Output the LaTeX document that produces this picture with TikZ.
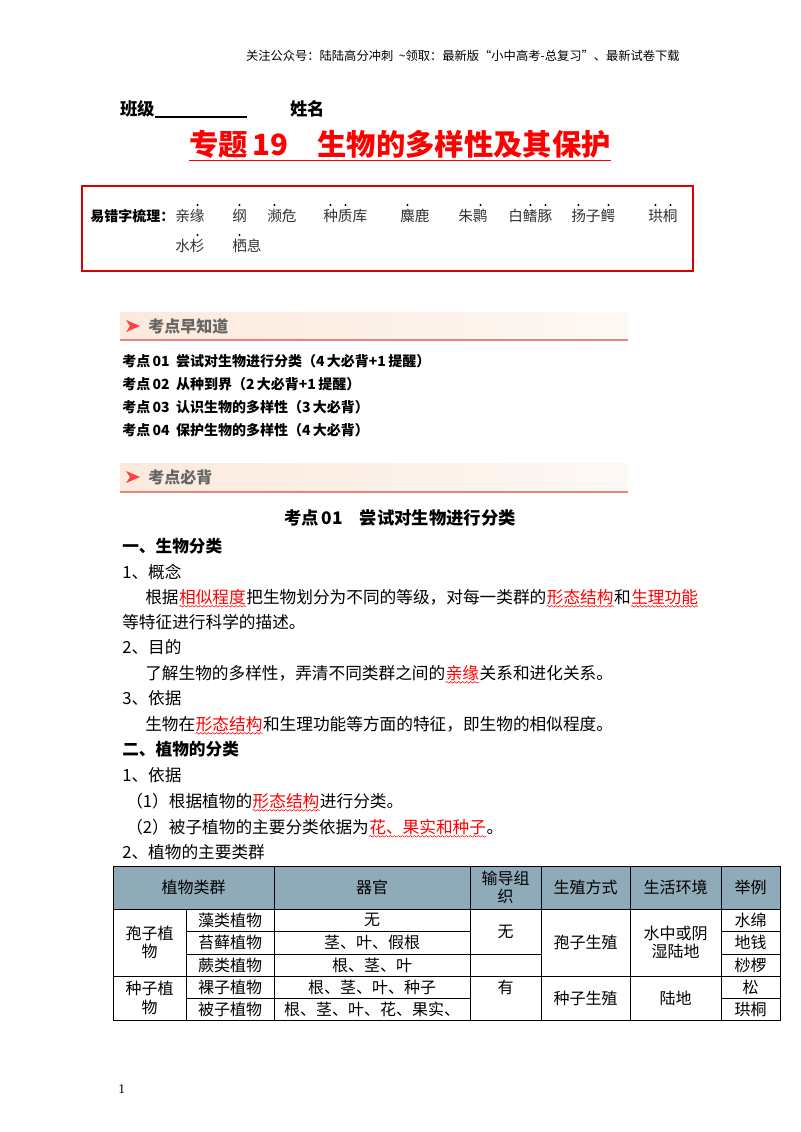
\documentclass[tikz,border=0pt]{standalone}
\usepackage{fontspec}
\setmainfont{Noto Sans CJK SC}
\newfontfamily\serifnum{Liberation Serif}
\usetikzlibrary{decorations.pathmorphing}
\definecolor{hdr}{HTML}{8FAAB9}
\definecolor{bnr}{HTML}{E8857A}
\definecolor{crm}{HTML}{FBE9DC}
\tikzset{
  x=0.75pt, y=-0.75pt,
  tx/.style={anchor=base west, inner sep=0pt, font=\fontsize{12.5}{14}\selectfont},
  rd/.style={tx, text=red},
  bd/.style={tx, font=\fontsize{12.5}{14}\selectfont\bfseries},
  li/.style={anchor=base west, inner sep=0pt, font=\fontsize{10.5}{12}\selectfont\bfseries},
  wz/.style={anchor=base west, inner sep=0pt, font=\fontsize{11}{12}\selectfont, text=black!80},
  wavy/.style={red, line width=0.4pt, decorate, decoration={snake, amplitude=0.6pt, segment length=3pt}},
  tc/.style={inner sep=0pt, font=\fontsize{12}{14}\selectfont, align=center},
  bnt/.style={anchor=base west, inner sep=0pt, text=black!60, font=\fontsize{12}{14}\selectfont\bfseries},
}
\newcommand{\wv}[1]{\draw[wavy] ([yshift=-2.5pt]#1.base west) -- ([yshift=-2.5pt]#1.base east);}
\begin{document}
\begin{tikzpicture}
\useasboundingbox (0,0) rectangle (800,1132);
\fill[white] (0,0) rectangle (800,1132);
% header
\node[anchor=base east, inner sep=0pt, font=\fontsize{9.2}{10}\selectfont] (hd) at (680,60) {关注公众号：陆陆高分冲刺\ \ \textasciitilde 领取：最新版“小中高考-总复习”、最新试卷下载};
\node[bd, font=\fontsize{13}{15}\selectfont\bfseries] (bj) at (120,115) {班级};
\draw[line width=0.8pt] (bj.base east) ++(0,2) -- ++(92,0) coordinate (bje);
\node[bd, font=\fontsize{13}{15}\selectfont\bfseries] (xm) at (290,115) {姓名};
\node[anchor=base, inner sep=0pt, text=red, font=\fontsize{22}{26}\selectfont\bfseries] (tt) at (400,155) {专题\,19\quad 生物的多样性及其保护};
\draw[red, line width=1.2pt] ([yshift=-4pt]tt.base west) -- ([yshift=-4pt]tt.base east);
% error box
\draw[red!85!black, line width=1.5pt] (82,186) rectangle (693,271);
\node[li] (yc) at (90,221) {易错字梳理：};
\foreach \w/\x in {亲缘/175, 纲/232, 濒危/267, 种质库/323, 麋鹿/400, 朱鹮/458, 白鳍豚/508, 扬子鳄/571, 珙桐/648}
  \node[wz] at (\x,221) {\w};
\node[wz] (w10) at (175,251) {水杉};
\node[wz] (w11) at (232,251) {栖息};
\foreach \x in {197.5,239.5,274.5,330.5,345.5,407.5,480.5,530.5,545.5,578.5,608.5,655.5,670.5}
  \fill (\x,205) circle[radius=1.1];
\foreach \x in {197.5,239.5}
  \fill (\x,235) circle[radius=1.1];
% banner 1
\shade[left color=crm, right color=crm!30] (120,312) rectangle (628,340);
\draw[bnr, line width=1.3pt] (120,340) -- (628,340);
\fill[red!75] (126,320) -- (140,326) -- (126,332) -- (130,326) -- cycle;
\node[bnt] (b1) at (148,332) {考点早知道};
\node[li] (l1) at (122,366) {考点\,01\ \ 尝试对生物进行分类（4\,大必背+1\,提醒）};
\node[li] (l2) at (122,389) {考点\,02\ \ 从种到界（2\,大必背+1\,提醒）};
\node[li] (l3) at (122,412) {考点\,03\ \ 认识生物的多样性（3\,大必背）};
\node[li] (l4) at (122,435) {考点\,04\ \ 保护生物的多样性（4\,大必背）};
% banner 2
\shade[left color=crm, right color=crm!30] (120,463) rectangle (628,492);
\draw[bnr, line width=1.3pt] (120,492) -- (628,492);
\fill[red!75] (126,471) -- (140,477) -- (126,483) -- (130,477) -- cycle;
\node[bnt] (b2) at (148,483) {考点必背};
% section
\node[anchor=base, inner sep=0pt, font=\fontsize{13}{15}\selectfont\bfseries] (kd) at (400,524) {考点\,01\quad 尝试对生物进行分类};
\node[bd] (s1) at (122,552) {一、生物分类};
\node[tx] (a1) at (122,578) {1、概念};
\node[tx] (a2) at (145,603) {根据};
\node[rd] (a3) at (a2.base east) {相似程度};
\node[tx] (a4) at (a3.base east) {把生物划分为不同的等级，对每一类群的};
\node[rd] (a5) at (a4.base east) {形态结构};
\node[tx] (a6) at (a5.base east) {和};
\node[rd] (a7) at (a6.base east) {生理功能};
\wv{a3}\wv{a5}\wv{a7}
\node[tx] (a8) at (122,628) {等特征进行科学的描述。};
\node[tx] (b1x) at (122,653) {2、目的};
\node[tx] (b2x) at (145,679) {了解生物的多样性，弄清不同类群之间的};
\node[rd] (b3x) at (b2x.base east) {亲缘};
\node[tx] (b4x) at (b3x.base east) {关系和进化关系。};
\wv{b3x}
\node[tx] (c1) at (122,704) {3、依据};
\node[tx] (c2) at (145,730) {生物在};
\node[rd] (c3) at (c2.base east) {形态结构};
\node[tx] (c4) at (c3.base east) {和生理功能等方面的特征，即生物的相似程度。};
\wv{c3}
\node[bd] (s2) at (122,755) {二、植物的分类};
\node[tx] (d1) at (122,781) {1、依据};
\node[tx] (d2) at (126,807) {（1）根据植物的};
\node[rd] (d3) at (d2.base east) {形态结构};
\node[tx] (d4) at (d3.base east) {进行分类。};
\wv{d3}
\node[tx] (e2) at (126,833) {（2）被子植物的主要分类依据为};
\node[rd] (e3) at (e2.base east) {花、果实和种子};
\node[tx] (e4) at (e3.base east) {。};
\wv{e3}
\node[tx] (f1) at (122,858) {2、植物的主要类群};
% table
\fill[hdr] (113,866) rectangle (780,909);
\draw[line width=0.6pt] (113,866) rectangle (780,1020);
\draw[line width=0.6pt] (113,909) -- (780,909);
\foreach \x in {274,470,541,630,721} \draw[line width=0.6pt] (\x,866) -- (\x,1020);
\draw[line width=0.6pt] (186,909) -- (186,1020);
\draw[line width=0.6pt] (186,931) -- (470,931);
\draw[line width=0.6pt] (186,954) -- (541,954);
\draw[line width=0.6pt] (113,976) -- (780,976);
\draw[line width=0.6pt] (186,998) -- (470,998);
\draw[line width=0.6pt] (721,931) -- (780,931);
\draw[line width=0.6pt] (721,954) -- (780,954);
\draw[line width=0.6pt] (721,998) -- (780,998);
\node[tc] (h1) at (193.5,887.5) {植物类群};
\node[tc] (h2) at (372,887.5) {器官};
\node[tc] (h3) at (505.5,887.5) {输导组\\织};
\node[tc] (h4) at (585.5,887.5) {生殖方式};
\node[tc] (h5) at (675.5,887.5) {生活环境};
\node[tc] (h6) at (750.5,887.5) {举例};
\node[tc] (g1) at (149.5,942.5) {孢子植\\物};
\node[tc] (g2) at (149.5,998) {种子植\\物};
\node[tc] (p1) at (230,920) {藻类植物};
\node[tc] (p2) at (230,942.5) {苔藓植物};
\node[tc] (p3) at (230,965) {蕨类植物};
\node[tc] (p4) at (230,987) {裸子植物};
\node[tc] (p5) at (230,1009) {被子植物};
\node[tc] (o1) at (372,920) {无};
\node[tc] (o2) at (372,942.5) {茎、叶、假根};
\node[tc] (o3) at (372,965) {根、茎、叶};
\node[tc] (o4) at (372,987) {根、茎、叶、种子};
\node[tc] (o5) at (372,1009) {根、茎、叶、花、果实、};
\node[tc] (t1) at (505.5,931.5) {无};
\node[tc] (t2) at (505.5,987) {有};
\node[tc] (r1) at (585.5,942.5) {孢子生殖};
\node[tc] (r2) at (585.5,998) {种子生殖};
\node[tc] (v1) at (675.5,942.5) {水中或阴\\湿陆地};
\node[tc] (v2) at (675.5,998) {陆地};
\node[tc] (x1) at (750.5,920) {水绵};
\node[tc] (x2) at (750.5,942.5) {地钱};
\node[tc] (x3) at (750.5,965) {桫椤};
\node[tc] (x4) at (750.5,987) {松};
\node[tc] (x5) at (750.5,1009) {珙桐};
\node[anchor=base west, inner sep=0pt, font=\serifnum\fontsize{10}{12}\selectfont] (pg) at (118,1093) {1};
\end{tikzpicture}
\end{document}
